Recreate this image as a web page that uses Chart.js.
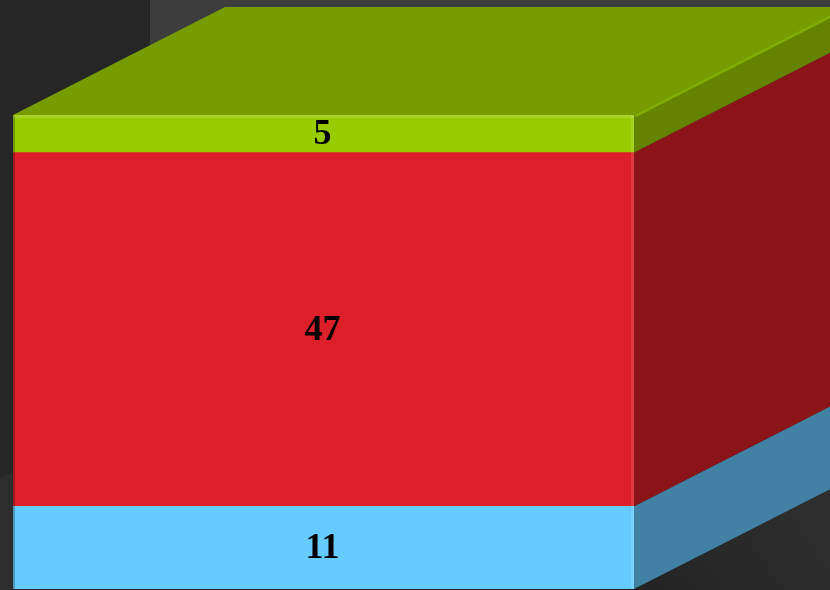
<!DOCTYPE html>
<html>
<head>
<meta charset="utf-8">
<script src="https://cdn.jsdelivr.net/npm/chart.js@4"></script>
<style>
  html, body { margin: 0; padding: 0; background: #262626; }
  #wrap { width: 830px; height: 590px; }
</style>
</head>
<body>
<div id="wrap"><canvas id="chart"></canvas></div>
<script>
// data
const categories = ['Total'];
const seriesNames = ['Blue', 'Red', 'Green'];
const blueValues = [11];
const redValues = [47];
const greenValues = [5];

const frontColors = ['#66ccff', '#dc1f29', '#99cc00'];
const sideColors = ['#4181a4', '#8b1419', '#648400'];
const topColor = '#769c00';

// depth of the 3d box (screen offset of the back face)
const DEPTH_X = 212;
const DEPTH_Y = -108;

const backgroundPlugin = {
    id: 'bg',
    beforeDraw(chart) {
        const ctx = chart.ctx;
        const w = chart.width, h = chart.height;
        ctx.save();
        ctx.fillStyle = '#262626';
        ctx.fillRect(0, 0, w, h);
        // back wall
        ctx.fillStyle = '#3d3d3d';
        ctx.fillRect(150, 0, w - 150, 420);
        // floor, lower left
        ctx.fillStyle = '#2d2d2d';
        ctx.beginPath();
        ctx.moveTo(0, 478);
        ctx.lineTo(40, 462);
        ctx.lineTo(40, h);
        ctx.lineTo(0, h);
        ctx.closePath();
        ctx.fill();
        // floor, lower right
        const g = ctx.createLinearGradient(640, 600, 830, 470);
        g.addColorStop(0, '#232323');
        g.addColorStop(1, '#303030');
        ctx.fillStyle = g;
        ctx.beginPath();
        ctx.moveTo(600, h);
        ctx.lineTo(830, 470);
        ctx.lineTo(830, h);
        ctx.closePath();
        ctx.fill();
        ctx.restore();
    }
};

const boxPlugin = {
    id: 'box3d',
    beforeDatasetsDraw(chart) {
        const ctx = chart.ctx;
        ctx.save();
        chart.data.datasets.forEach((ds, i) => {
            const bar = chart.getDatasetMeta(i).data[0];
            const right = bar.x + bar.width / 2;
            const left = bar.x - bar.width / 2;
            const top = bar.y, base = bar.base;
            // side face
            ctx.fillStyle = sideColors[i];
            ctx.beginPath();
            ctx.moveTo(right, top);
            ctx.lineTo(right + DEPTH_X, top + DEPTH_Y);
            ctx.lineTo(right + DEPTH_X, base + DEPTH_Y);
            ctx.lineTo(right, base);
            ctx.closePath();
            ctx.fill();
            // top face on the last segment
            if (i === chart.data.datasets.length - 1) {
                ctx.fillStyle = topColor;
                ctx.beginPath();
                ctx.moveTo(left, top);
                ctx.lineTo(left + DEPTH_X, top + DEPTH_Y);
                ctx.lineTo(right + DEPTH_X, top + DEPTH_Y);
                ctx.lineTo(right, top);
                ctx.closePath();
                ctx.fill();
                // highlight on the top right edge
                ctx.strokeStyle = '#7fae00';
                ctx.lineWidth = 3;
                ctx.beginPath();
                ctx.moveTo(right + 1, top + 1);
                ctx.lineTo(right + DEPTH_X + 1, top + DEPTH_Y + 1);
                ctx.stroke();
            }
        });
        ctx.restore();
    },
    afterDatasetsDraw(chart) {
        const ctx = chart.ctx;
        ctx.save();
        chart.data.datasets.forEach((ds, i) => {
            const bar = chart.getDatasetMeta(i).data[0];
            const right = bar.x + bar.width / 2;
            const left = bar.x - bar.width / 2;
            // soft edges on the front face
            ctx.fillStyle = 'rgba(0,0,0,0.25)';
            ctx.fillRect(left, bar.y, 2, bar.base - bar.y);
            ctx.fillStyle = 'rgba(255,255,255,0.12)';
            ctx.fillRect(right - 3, bar.y, 3, bar.base - bar.y);
            if (i === chart.data.datasets.length - 1) {
                ctx.fillStyle = 'rgba(255,255,255,0.15)';
                ctx.fillRect(left, bar.y, bar.width, 3);
            }
            // value label
            ctx.fillStyle = '#000000';
            ctx.font = 'bold 36px "Liberation Serif", serif';
            ctx.textAlign = 'center';
            ctx.textBaseline = 'middle';
            ctx.fillText(String(ds.data[0]), bar.x - 1, (bar.y + bar.base) / 2 + 1);
        });
        ctx.restore();
    }
};

const datasets = [blueValues, redValues, greenValues].map((vals, i) => ({
    label: seriesNames[i],
    data: vals,
    backgroundColor: frontColors[i],
    borderWidth: 0,
    barPercentage: 1,
    categoryPercentage: 1,
}));

new Chart(document.getElementById('chart').getContext('2d'), {
    type: 'bar',
    data: { labels: categories, datasets: datasets },
    options: {
        responsive: true,
        maintainAspectRatio: false,
        animation: false,
        layout: { padding: { left: 13, right: 196, top: 115, bottom: 1 } },
        plugins: { legend: { display: false }, tooltip: { enabled: false } },
        scales: {
            x: { stacked: true, display: false },
            y: { stacked: true, display: false, min: 0, max: 63 }
        }
    },
    plugins: [backgroundPlugin, boxPlugin]
});
</script>
</body>
</html>
